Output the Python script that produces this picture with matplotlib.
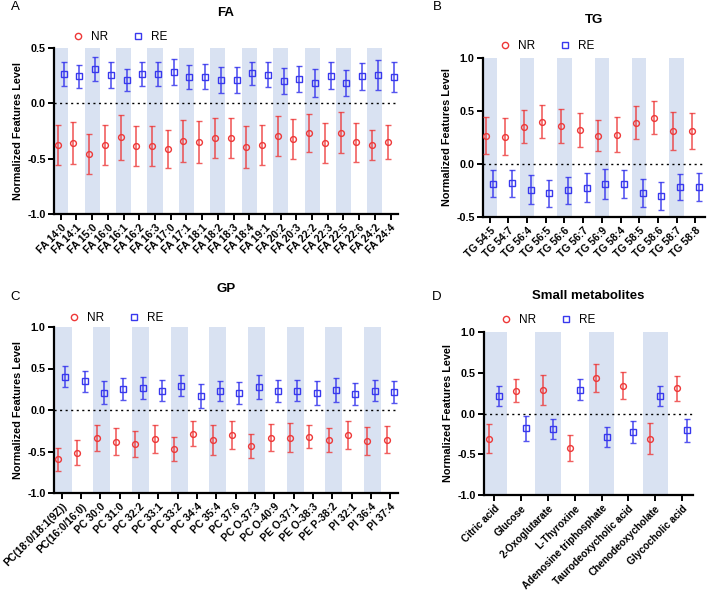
import matplotlib
matplotlib.use("Agg")
import matplotlib.pyplot as plt
from matplotlib.lines import Line2D
import numpy as np

plt.rcParams["font.family"] = ["Liberation Sans", "DejaVu Sans"]

# ---- FA ----
fa_labels = ["FA 14:0", "FA 14:1", "FA 15:0", "FA 16:0", "FA 16:1", "FA 16:2",
             "FA 16:3", "FA 17:0", "FA 17:1", "FA 18:1", "FA 18:2", "FA 18:3",
             "FA 18:4", "FA 19:1", "FA 20:2", "FA 20:3", "FA 22:2", "FA 22:3",
             "FA 22:5", "FA 22:6", "FA 24:2", "FA 24:4"]
fa_nr = [-0.38, -0.356, -0.458, -0.374, -0.308, -0.386, -0.383, -0.413, -0.344, -0.35,
         -0.311, -0.311, -0.395, -0.38, -0.296, -0.32, -0.27, -0.362, -0.266, -0.353,
         -0.374, -0.347]
fa_nr_err = [0.18, 0.19, 0.18, 0.18, 0.2, 0.18, 0.18, 0.175, 0.19, 0.19,
             0.18, 0.18, 0.19, 0.18, 0.18, 0.18, 0.17, 0.18, 0.185, 0.175,
             0.135, 0.155]
fa_re = [0.263, 0.245, 0.314, 0.257, 0.21, 0.266, 0.263, 0.284, 0.236, 0.242,
         0.21, 0.21, 0.27, 0.26, 0.2, 0.22, 0.183, 0.25, 0.183, 0.245,
         0.254, 0.236]
fa_re_err = [0.11, 0.105, 0.108, 0.114, 0.1, 0.11, 0.11, 0.114, 0.11, 0.11,
             0.115, 0.115, 0.1, 0.11, 0.12, 0.117, 0.126, 0.12, 0.12, 0.12,
             0.136, 0.133]

# ---- TG ----
tg_labels = ["TG 54:5", "TG 54:7", "TG 56:4", "TG 56:5", "TG 56:6", "TG 56:7",
             "TG 56:9", "TG 58:4", "TG 58:5", "TG 58:6", "TG 58:7", "TG 58:8"]
tg_nr = [0.268, 0.259, 0.35, 0.397, 0.36, 0.319, 0.268, 0.278, 0.39, 0.435, 0.312, 0.312]
tg_nr_err = [0.172, 0.175, 0.155, 0.155, 0.163, 0.16, 0.15, 0.164, 0.158, 0.155, 0.178, 0.167]
tg_re = [-0.186, -0.18, -0.243, -0.278, -0.249, -0.224, -0.186, -0.192, -0.274, -0.303,
         -0.218, -0.218]
tg_re_err = [0.126, 0.128, 0.136, 0.131, 0.129, 0.136, 0.142, 0.132, 0.128, 0.129, 0.123, 0.129]

# ---- GP ----
gp_labels = ["PC(18:0/18:1(9Z))", "PC(16:0/16:0)", "PC 30:0", "PC 31:0", "PC 32:2",
             "PC 33:1", "PC 33:2", "PC 34:4", "PC 35:4", "PC 37:6", "PC O-37:3",
             "PC O-40:9", "PE O-37:1", "PE O-38:3", "PE P-38:2", "PI 32:1", "PI 36:4",
             "PI 37:4"]
gp_nr = [-0.593, -0.516, -0.335, -0.383, -0.415, -0.351, -0.472, -0.286, -0.359, -0.302,
         -0.431, -0.335, -0.335, -0.323, -0.367, -0.302, -0.371, -0.359]
gp_nr_err = [0.139, 0.151, 0.157, 0.163, 0.157, 0.165, 0.147, 0.149, 0.183, 0.171,
             0.143, 0.161, 0.173, 0.139, 0.145, 0.173, 0.169, 0.163]
gp_re = [0.40, 0.347, 0.21, 0.25, 0.262, 0.234, 0.294, 0.173, 0.23, 0.206,
         0.278, 0.226, 0.234, 0.206, 0.242, 0.194, 0.234, 0.222]
gp_re_err = [0.125, 0.127, 0.135, 0.13, 0.133, 0.131, 0.131, 0.143, 0.117, 0.131,
             0.141, 0.135, 0.127, 0.141, 0.145, 0.129, 0.129, 0.133]

# ---- Small metabolites ----
sm_labels = ["Citric acid", "Glucose", "2-Oxoglutarate", "L-Thyroxine",
             "Adenosine triphosphate", "Taurodeoxycholic acid", "Chenodeoxycholate",
             "Glycocholic acid"]
sm_nr = [-0.307, 0.279, 0.287, -0.422, 0.434, 0.34, -0.307, 0.307]
sm_nr_err = [0.18, 0.14, 0.18, 0.16, 0.174, 0.164, 0.193, 0.156]
sm_re = [0.213, -0.184, -0.189, 0.291, -0.291, -0.225, 0.213, -0.205]
sm_re_err = [0.125, 0.148, 0.127, 0.131, 0.123, 0.139, 0.119, 0.139]

RED = "#ee3838"
BLUE = "#3838ee"
BAND = "#d9e2f2"

W, H = 709, 592
fig = plt.figure(figsize=(W / 100, H / 100), dpi=100)


def px_axes(l, t, r, b):
    return fig.add_axes([l / W, 1 - b / H, (r - l) / W, (b - t) / H])


def panel(ax, labels, nr, nr_err, re, re_err, ylim, yticks, xlim, band_w, band_off,
          title, title_xy, letter, letter_xy, legend_xy, xfont=7.5):
    x = np.arange(len(labels))
    for i in x[::2]:
        ax.axvspan(i + band_off - band_w / 2, i + band_off + band_w / 2,
                   color=BAND, lw=0, zorder=0)
    ax.axhline(0, color="black", ls=(0, (1.5, 2.5)), lw=1.0, zorder=1)
    off = 0.19
    ax.errorbar(x - off, nr, yerr=nr_err, fmt="o", ms=4.2, mfc="none", mec=RED, mew=1.0,
                ecolor=(0.93, 0.22, 0.22, 0.8), elinewidth=1.2, capsize=2, capthick=1.2,
                zorder=3)
    ax.errorbar(x + off, re, yerr=re_err, fmt="s", ms=4.2, mfc="none", mec=BLUE, mew=1.0,
                ecolor=(0.22, 0.22, 0.93, 0.85), elinewidth=1.2, capsize=2, capthick=1.2,
                zorder=3)
    ax.set_xlim(*xlim)
    ax.set_ylim(*ylim)
    ax.set_yticks(yticks)
    ax.set_yticklabels([f"{v:.1f}" for v in yticks], fontweight="bold", fontsize=7.8)
    ax.set_xticks(x)
    ax.set_xticklabels(labels, rotation=45, ha="right", rotation_mode="anchor",
                       fontweight="bold", fontsize=xfont)
    for s in ("top", "right"):
        ax.spines[s].set_visible(False)
    for s in ("left", "bottom"):
        ax.spines[s].set_linewidth(1.6)
    ax.tick_params(width=1.4, length=4, pad=2)
    ax.set_ylabel("Normalized Features Level", fontweight="bold", fontsize=7.8, labelpad=3)
    fig.text(title_xy[0] / W, 1 - title_xy[1] / H, title, fontweight="bold", fontsize=9.5,
             ha="center", va="center")
    fig.text(letter_xy[0] / W, 1 - letter_xy[1] / H, letter, fontsize=9.5,
             ha="center", va="center")
    handles = [Line2D([], [], ls="none", marker="o", ms=4.5, mfc="none", mec=RED, mew=1.0),
               Line2D([], [], ls="none", marker="s", ms=4.5, mfc="none", mec=BLUE, mew=1.0)]
    ax.legend(handles, ["NR", "RE"], ncol=2, loc="center left",
              bbox_to_anchor=(legend_xy[0] / W, 1 - legend_xy[1] / H),
              bbox_transform=fig.transFigure, frameon=False, fontsize=8.5,
              handlelength=1.0, handletextpad=0.6, columnspacing=2.0,
              borderaxespad=0, borderpad=0)


axA = px_axes(54, 48, 398, 214)
panel(axA, fa_labels, fa_nr, fa_nr_err, fa_re, fa_re_err, (-1.0, 0.5), [-1.0, -0.5, 0.0, 0.5],
      (-0.43, 21.47), 0.96, 0.0, "FA", (226, 13), "A", (15, 7), (72, 37))

axB = px_axes(483, 58, 705, 217)
panel(axB, tg_labels, tg_nr, tg_nr_err, tg_re, tg_re_err, (-0.5, 1.0), [-0.5, 0.0, 0.5, 1.0],
      (-0.36, 11.52), 0.77, 0.0, "TG", (594, 20), "B", (437, 7), (499, 46))

axC = px_axes(54, 327, 398, 493)
panel(axC, gp_labels, gp_nr, gp_nr_err, gp_re, gp_re_err, (-1.0, 1.0),
      [-1.0, -0.5, 0.0, 0.5, 1.0], (-0.4, 17.4), 0.88, 0.08, "GP", (226, 289), "C", (15, 297),
      (68, 318))

axD = px_axes(484, 332, 693, 495)
panel(axD, sm_labels, sm_nr, sm_nr_err, sm_re, sm_re_err, (-1.0, 1.0),
      [-1.0, -0.5, 0.0, 0.5, 1.0], (-0.385, 7.41), 0.94, 0.0, "Small metabolites", (588, 296),
      "D", (437, 297), (500, 320), xfont=7.2)

fig.savefig("out.png", dpi=100)
